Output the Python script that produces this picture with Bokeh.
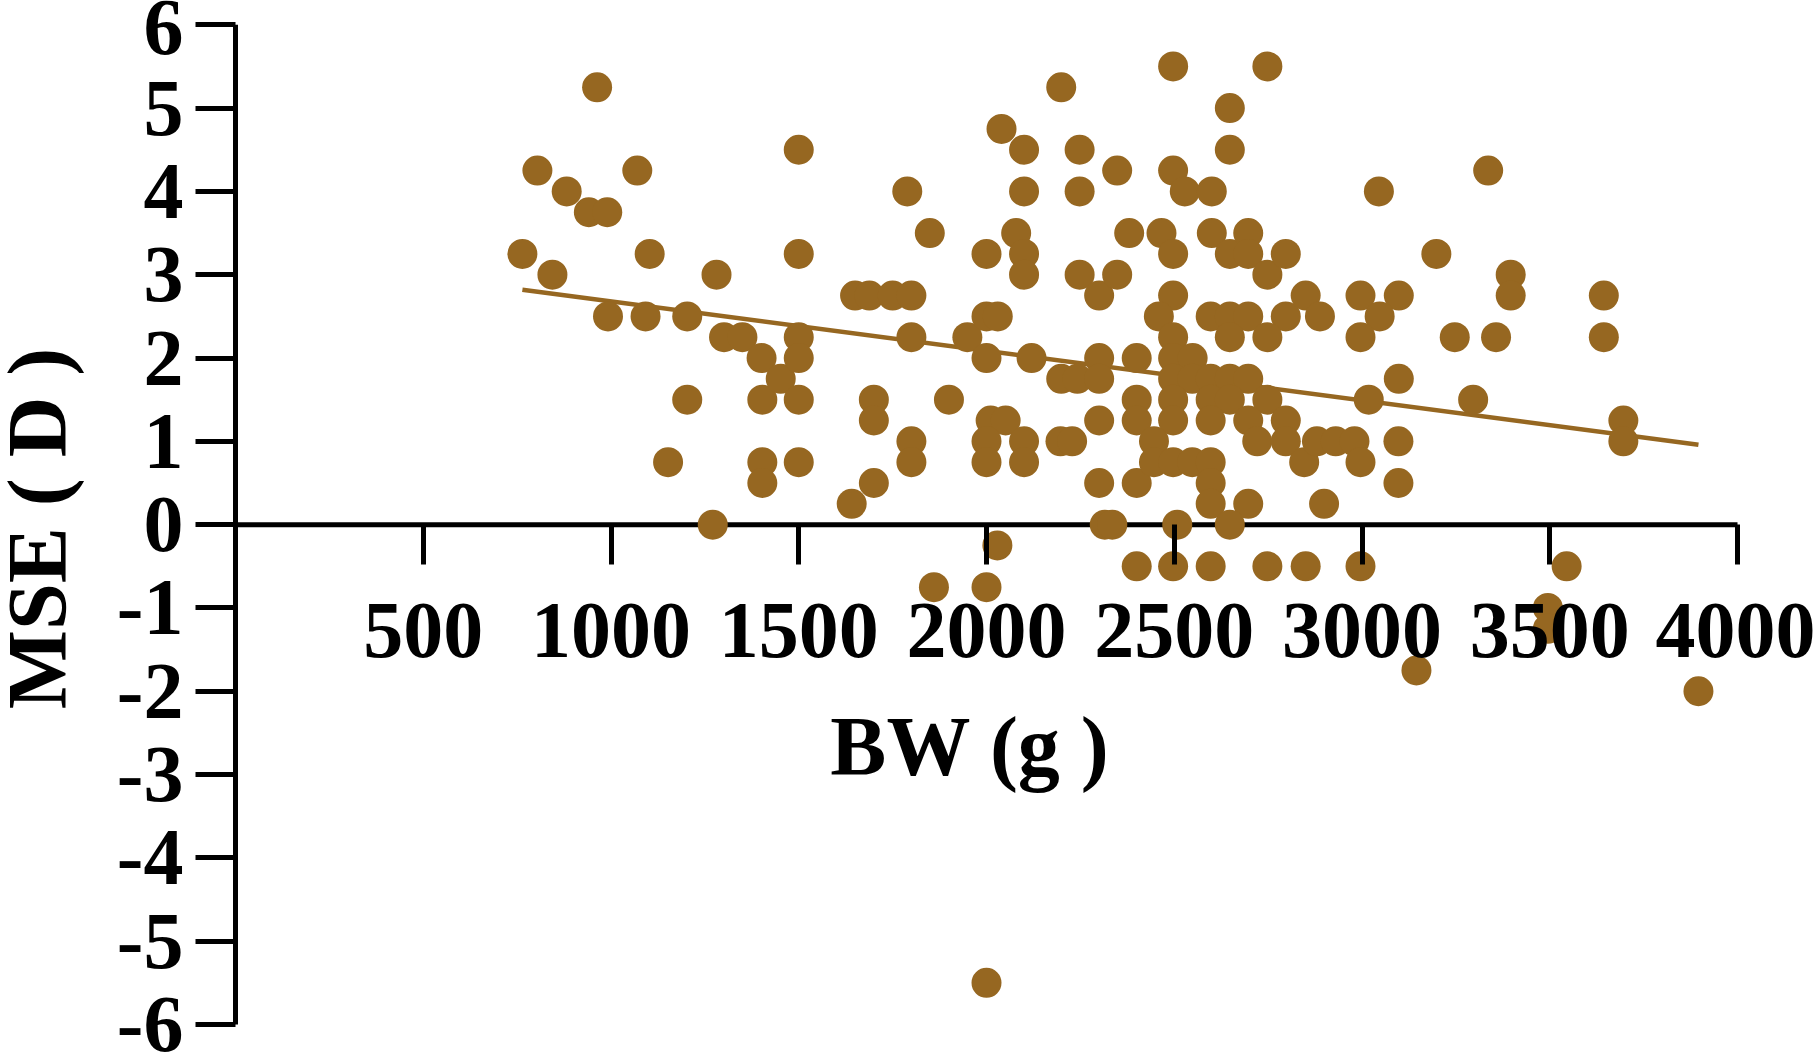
from bokeh.plotting import figure
from bokeh.models import FixedTicker, Range1d, Label
from bokeh.embed import file_html
from bokeh.resources import INLINE

# birth weight (g)
bw = [764, 804, 844, 882, 941, 963, 990, 992, 1070, 1092, 1103, 1152, 1203, 1203, 1271, 1281,
      1301, 1350, 1401, 1403, 1403, 1403, 1452, 1500, 1500, 1500, 1500, 1500, 1500,
      1641, 1700, 1700, 1700, 1650, 1688, 1750, 1800, 1789, 1800, 1800, 1800, 1849, 1860, 1900, 1949,
      2000, 2000, 2030, 2000, 2011, 2051, 2000, 2000, 2000, 2000, 2029, 2040, 2100, 2100, 2079, 2100,
      2100, 2100, 2100, 2120,
      2199, 2199, 2242, 2197, 2228, 2248, 2248, 2248, 2300, 2348, 2348, 2300, 2300, 2300, 2300, 2315,
      2335, 2380, 2400, 2400, 2400, 2400, 2400,
      2497, 2497, 2528, 2600, 2466, 2497, 2497, 2459, 2497, 2497, 2549, 2497, 2548, 2497, 2497, 2446,
      2446, 2497, 2548, 2597, 2508, 2497,
      2600, 2648, 2697, 2697, 2748, 2797, 2648, 2648, 2748,
      2597, 2648, 2697, 2797, 2648, 2748, 2850, 2888,
      2597, 2648, 2697, 2597, 2648, 2748, 2597, 2697, 2797, 2721, 2797, 2846, 2597, 2597, 2697, 2648,
      2597, 2748, 2850,
      2880, 2930, 2980, 2996, 2899, 2996,
      2996, 3098, 3047, 2996, 3045, 3018, 3098, 3097, 3097, 3145,
      3198, 3247, 3296, 3336, 3357, 3396, 3396, 3495, 3495, 3545, 3644, 3644, 3696, 3696, 3896]

# MSE (D)
mse = [3.25, 4.25, 3.0, 4.0, 3.75, 5.25, 3.75, 2.5, 4.25, 2.5, 3.25, 0.75, 2.5, 1.5, 0.0, 3.0,
       2.25, 2.25, 2.0, 1.5, 0.75, 0.5, 1.75, 4.5, 3.25, 2.25, 2.0, 1.5, 0.75,
       0.25, 0.5, 1.5, 1.25, 2.75, 2.75, 2.75, 2.75, 4.0, 2.25, 1.0, 0.75, 3.5, -0.75, 1.5, 2.25,
       3.25, 2.5, 2.5, 2.0, 1.25, 1.25, 1.0, 0.75, -0.75, -5.5, -0.25, 4.75, 4.5, 4.0, 3.5, 3.25,
       3.0, 1.0, 0.75, 2.0,
       5.25, 1.75, 1.75, 1.0, 1.0, 4.5, 4.0, 3.0, 2.75, 3.0, 4.25, 2.0, 1.75, 1.25, 0.5, 0.0,
       0.0, 3.5, 2.0, 1.5, 1.25, 0.5, -0.5,
       5.5, 4.25, 4.0, 4.0, 3.5, 3.25, 2.75, 2.5, 2.25, 2.0, 2.0, 1.75, 1.75, 1.5, 1.25, 1.0,
       0.75, 0.75, 0.75, 0.75, 0.0, -0.5,
       3.5, 3.25, 3.5, 3.25, 3.0, 3.25, 5.0, 4.5, 5.5,
       2.5, 2.5, 2.5, 2.5, 2.25, 2.25, 2.75, 2.5,
       1.75, 1.75, 1.75, 1.5, 1.5, 1.5, 1.25, 1.25, 1.25, 1.0, 1.0, 0.75, 0.5, 0.25, 0.25, 0.0,
       -0.5, -0.5, -0.5,
       1.0, 1.0, 1.0, 0.75, 0.25, -0.5,
       2.75, 2.75, 2.5, 2.25, 4.0, 1.5, 1.75, 1.0, 0.5, -1.75,
       3.25, 2.25, 1.5, 4.25, 2.25, 3.0, 2.75, -1.0, -1.25, -0.5, 2.75, 2.25, 1.25, 1.0, -2.0]

# fitted regression line
fit_bw = [764, 3896]
fit_mse = [2.82, 0.96]

x_ticks = [500, 1000, 1500, 2000, 2500, 3000, 3500, 4000]
y_ticks = [-6, -5, -4, -3, -2, -1, 0, 1, 2, 3, 4, 5, 6]
y_tick_labels = {t: str(t) for t in y_ticks}   # plain hyphen for negatives
x_axis_span = [0, 4000]
y_axis_span = [-6, 6]

COLOR = "#966721"
FONT = "Liberation Serif"

W, H = 1815, 1056
# plot frame covers the whole canvas; the axes sit at x=0 / y=0
X0_PX, X4000_PX = 235.0, 1737.0
Y6_PX, YM6_PX = 24.3, 1024.0
PX_X = (X4000_PX - X0_PX) / 4000.0
PX_Y = (YM6_PX - Y6_PX) / 12.0
x_start = -X0_PX / PX_X
x_end = 4000 + (W - X4000_PX) / PX_X
y_end = 6 + Y6_PX / PX_Y
y_start = -6 - (H - YM6_PX) / PX_Y

p = figure(width=W, height=H, output_backend="svg", toolbar_location=None,
           x_range=Range1d(x_start, x_end), y_range=Range1d(y_start, y_end),
           min_border=0, min_border_left=0, min_border_right=0,
           min_border_top=0, min_border_bottom=0)
p.outline_line_color = None
p.grid.visible = False
p.background_fill_color = "white"

p.xaxis.fixed_location = 0
p.yaxis.fixed_location = 0
p.xaxis.ticker = FixedTicker(ticks=x_ticks)
p.yaxis.ticker = FixedTicker(ticks=y_ticks)
p.yaxis.major_label_overrides = y_tick_labels

for ax in (p.xaxis, p.yaxis):
    ax.axis_line_color = None
    ax.major_tick_line_width = 5
    ax.major_tick_line_color = "black"
    ax.major_tick_out = 40
    ax.major_tick_in = 0
    ax.minor_tick_line_color = None
    ax.major_label_text_font = FONT
    ax.major_label_text_font_style = "bold"
    ax.major_label_text_font_size = "80px"
    ax.major_label_text_color = "black"
    ax.axis_label_text_font = FONT
    ax.axis_label_text_font_style = "bold"
    ax.axis_label_text_font_size = "84px"
    ax.axis_label_text_color = "black"

p.xaxis.major_label_standoff = 39
p.yaxis.major_label_standoff = 12
p.yaxis.axis_label = "MSE ( D )"
p.yaxis.axis_label_standoff = 30

# axis lines spanning exactly the labelled ranges
p.line(x_axis_span, [0, 0], line_width=5, line_color="black")
p.line([0, 0], y_axis_span, line_width=5, line_color="black")

p.line(fit_bw, fit_mse, line_width=4.5, line_color=COLOR)
p.scatter(bw, mse, size=30, fill_color=COLOR, line_color=None)

p.add_layout(Label(x=1957, y=-2.66, text="BW (g )", text_align="center",
                   text_baseline="alphabetic", text_font=FONT, text_font_style="bold",
                   text_font_size="84px", text_color="black"))

open("out.html", "w").write(file_html(p, INLINE))
